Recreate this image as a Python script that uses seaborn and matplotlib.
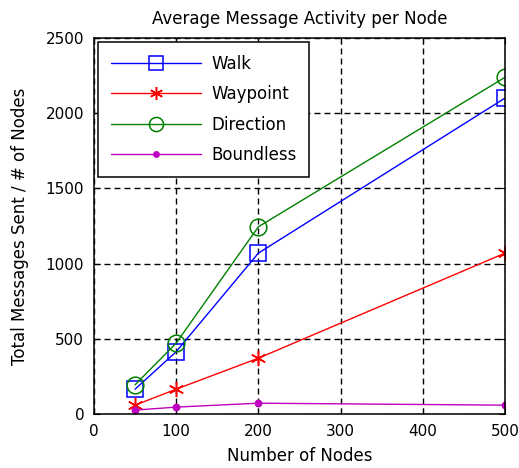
import matplotlib
matplotlib.use("Agg")
import matplotlib.pyplot as plt
import seaborn as sns
import pandas as pd

nodes = [50, 100, 200, 500]
walk = [166, 415, 1070, 2100]
waypoint = [60, 166, 372, 1070]
direction = [195, 472, 1245, 2238]
boundless = [27, 47, 73, 60]

series_names = ["Walk", "Waypoint", "Direction", "Boundless"]
x_ticks = [0, 100, 200, 300, 400, 500]
y_ticks = [0, 500, 1000, 1500, 2000, 2500]

sns.set_style("white")
plt.rcParams["font.family"] = ["DejaVu Sans"]
plt.rcParams["text.color"] = "black"
plt.rcParams["axes.labelcolor"] = "black"
plt.rcParams["xtick.color"] = "black"
plt.rcParams["ytick.color"] = "black"

df = pd.DataFrame({
    "Nodes": nodes * 4,
    "Value": walk + waypoint + direction + boundless,
    "Series": sum([[n] * len(nodes) for n in series_names], []),
})

fig = plt.figure(figsize=(5.19, 4.68), dpi=100)
ax = fig.add_axes([0.181, 0.115, 0.792, 0.804])

palette = {"Walk": "#0000ff", "Waypoint": "#ff0000", "Direction": "#008000", "Boundless": "#bf00bf"}
markers = {"Walk": "s", "Waypoint": (6, 2, 0), "Direction": "o", "Boundless": "."}
sizes = {"Walk": 12, "Waypoint": 11, "Direction": 12, "Boundless": 9}

for name in series_names:
    sub = df[df["Series"] == name]
    sns.lineplot(data=sub, x="Nodes", y="Value", ax=ax, color=palette[name],
                 marker=markers[name], markersize=sizes[name],
                 markerfacecolor="none" if name in ("Walk", "Direction") else palette[name],
                 markeredgecolor=palette[name], markeredgewidth=1.1,
                 linewidth=1.0, label=name)

ax.set_xlim(0, 500)
ax.set_ylim(0, 2500)
ax.set_xticks(x_ticks)
ax.set_yticks(y_ticks)
ax.tick_params(direction="in", length=4, labelsize=11, color="black", top=True, right=True,
               bottom=True, left=True, pad=7)
ax.grid(True, color="black", linestyle=(0, (4.3, 2.9)), linewidth=1.0)
for s in ax.spines.values():
    s.set_color("black")
    s.set_linewidth(1.1)

ax.set_title("Average Message Activity per Node", fontsize=12, pad=10)
ax.set_xlabel("Number of Nodes", fontsize=12, labelpad=6)
ax.set_ylabel("Total Messages Sent / # of Nodes", fontsize=12, labelpad=12)

leg = ax.legend(loc="upper left", fontsize=12, frameon=True, fancybox=False,
                edgecolor="black", framealpha=1, handlelength=5.4, handletextpad=0.65,
                borderaxespad=0.25, labelspacing=0.75, borderpad=0.75, markerscale=0.85)
leg.get_frame().set_linewidth(1.1)

fig.savefig("out.png", dpi=100, facecolor="white")
